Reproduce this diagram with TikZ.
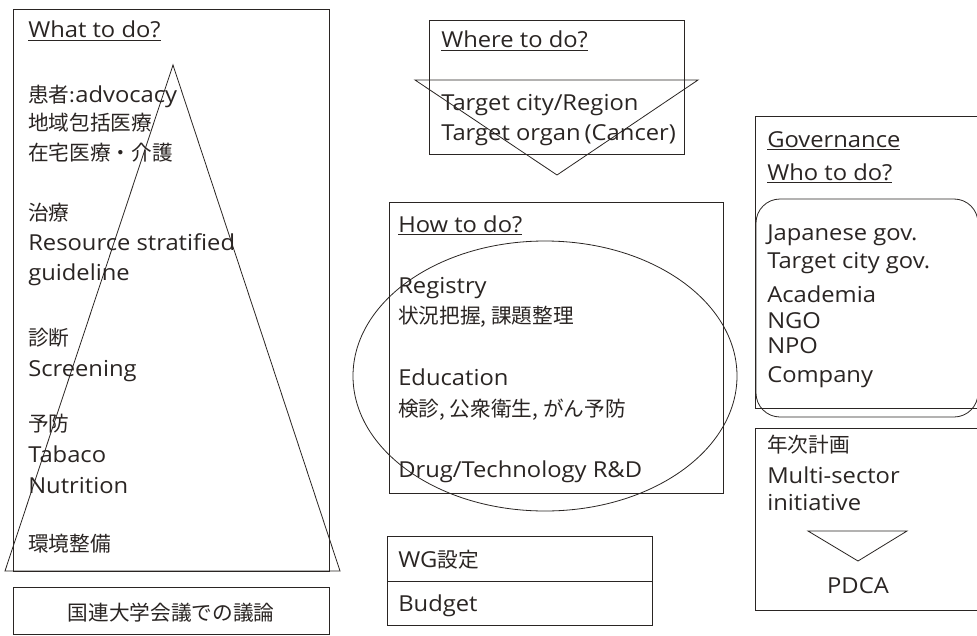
\documentclass[tikz,border=0pt]{standalone}
\usepackage{fontspec}
\setmainfont{Open Sans}[FakeStretch=1.08]
\newfontfamily\jp{Noto Sans CJK JP}
\newcommand\jptext[1]{{\jp\fontsize{15.5}{18}\selectfont #1}}
\definecolor{ink}{HTML}{2A2523}
\tikzset{
  box/.style={draw=ink, line width=0.6pt},
  txt/.style={anchor=base west, inner sep=0pt, text=ink, font=\fontsize{16.5}{18}\selectfont},
  ctxt/.style={anchor=base, inner sep=0pt, text=ink, font=\fontsize{16.5}{18}\selectfont}
}
\begin{document}
\begin{tikzpicture}[x=0.75pt,y=-0.75pt]
\clip (0,0) rectangle (977,635);
\fill[white] (0,0) rectangle (977,635);
% What to do
\draw[box] (13,9) rectangle (329,571);
\draw[box] (173,65) -- (340,571) -- (5,571) -- cycle;
\node[txt] (w0) at (28,38) {\underline{What to do?}};
\node[txt] (w1) at (28,102) {\jptext{患者:}advocacy};
\node[txt] (w2) at (28,130) {\jptext{地域包括医療}};
\node[txt] (w3) at (28,160) {\jptext{在宅医療・介護}};
\node[txt] (w4) at (28,220) {\jptext{治療}};
\node[txt] (w5) at (28,250) {Resource stratified};
\node[txt] (w6) at (28,280) {guideline};
\node[txt] (w7) at (28,345) {\jptext{診断}};
\node[txt] (w8) at (28,376) {Screening};
\node[txt] (w9) at (28,431) {\jptext{予防}};
\node[txt] (w10) at (28,462) {Tabaco};
\node[txt] (w11) at (28,493) {Nutrition};
\node[txt] (w12) at (28,551) {\jptext{環境整備}};
% UN university
\draw[box] (13,587) rectangle (329,634);
\node[ctxt] (un) at (171,620) {\jptext{国連大学会議での議論}};
% Where to do
\draw[box] (429,20) rectangle (684,154);
\draw[box] (415,80) -- (698,80) -- (557,175) -- cycle;
\node[txt] (h0) at (441,48) {\underline{Where to do?}};
\node[txt] (h1) at (441,110) {Target city/Region};
\node[txt] (h2) at (441,140) {Target organ\kern3pt(Cancer)};
% How to do
\draw[box] (389,202) rectangle (723,493);
\draw[box] (545,376) ellipse [x radius=192, y radius=135];
\node[txt] (o0) at (398,232) {\underline{How to do?}};
\node[txt] (o1) at (398,293) {Registry};
\node[txt] (o2) at (398,323) {\jptext{状況把握, 課題整理}};
\node[txt] (o3) at (398,385) {Education};
\node[txt] (o4) at (398,416) {\jptext{検診, 公衆衛生, がん予防}};
\node[txt] (o5) at (398,477) {Drug/Technology R\&D};
% WG
\draw[box] (387,536) rectangle (652,625);
\draw[box] (387,581) -- (652,581);
\node[txt] (g1) at (398,567) {WG\jptext{設定}};
\node[txt] (g2) at (398,611) {Budget};
% Governance
\draw[box] (755,116) rectangle (995,408);
\draw[box, rounded corners=18pt] (756,199) rectangle (978,417);
\node[txt] (v0) at (767,147) {\underline{Governance}};
\node[txt] (v1) at (767,180) {\underline{Who to do?}};
\node[txt] (v2) at (767,240) {Japanese gov.};
\node[txt] (v3) at (767,268) {Target city gov.};
\node[txt] (v4) at (767,302) {Academia};
\node[txt] (v5) at (767,328) {NGO};
\node[txt] (v6) at (767,353) {NPO};
\node[txt] (v7) at (767,382) {Company};
% Yearly plan
\draw[box] (755,428) rectangle (995,610);
\node[txt] (y1) at (767,452) {\jptext{年次計画}};
\node[txt] (y2) at (767,483) {Multi-sector};
\node[txt] (y3) at (767,510) {initiative};
\draw[box] (808,531) -- (907,531) -- (858,561) -- cycle;
\node[ctxt] (y4) at (858,593) {PDCA};
\end{tikzpicture}
\end{document}
